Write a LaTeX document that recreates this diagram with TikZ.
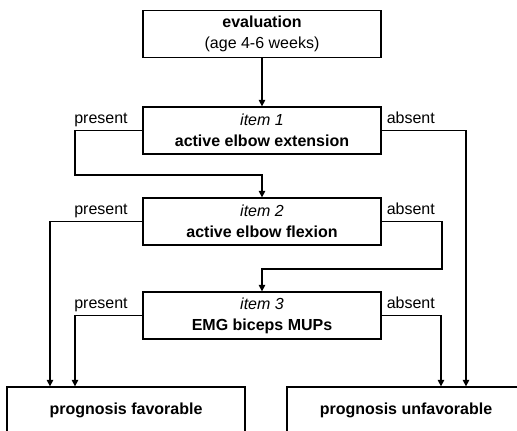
\documentclass[tikz,border=0pt]{standalone}
\usepackage{fontspec}
\setmainfont{Liberation Sans}
\usetikzlibrary{arrows.meta}

\begin{document}
\begin{tikzpicture}[x=1pt, y=-1pt, line width=1.3pt,
        boxStyle/.style={rectangle, draw, minimum width=238pt, minimum height=47pt, inner sep=0pt, align=center, font=\fontsize{16}{21}\selectfont},
        leftLabel/.style={anchor=base east, xshift=-14pt, yshift=7pt, inner sep=0pt, font=\fontsize{16}{19}\selectfont},
        rightLabel/.style={anchor=base west, xshift=4.5pt, yshift=7pt, inner sep=0pt, font=\fontsize{16}{19}\selectfont},
        arrowStyle/.style={-{Triangle[length=6.5pt, width=6.5pt]}}]
                    \clip (0,0) rectangle (517,431);
                    \node[boxStyle](eval) at (262, 34) {\textbf{evaluation}\\(age 4-6 weeks)};
                    \node[boxStyle](item1) at (262, 130.5) {\textit{item 1}\\\textbf{active elbow extension}};
                    \node[boxStyle](item2) at (262, 221.5) {\textit{item 2}\\\textbf{active elbow flexion}};
                    \node[boxStyle](item3) at (262, 315.5) {\textit{item 3}\\\textbf{EMG biceps MUPs}};
                    \node[boxStyle](fav) at (126, 410.5) {\textbf{prognosis favorable}};
                    \node[boxStyle](unfav) at (406, 410.5) {\textbf{prognosis unfavorable}};

                    \draw[arrowStyle] (eval) -- (item1);
                    \draw[arrowStyle] (item1.west) node[leftLabel] {present} -| (75, 175) -| (item2.north);
                    \draw[arrowStyle] (item1.east) node[rightLabel] {absent} -| ([xshift=60pt]unfav.north);
                    \draw[arrowStyle] (item2.west) node[leftLabel] {present} -| ([xshift=-76pt]fav.north);
                    \draw[arrowStyle] (item2.east) node[rightLabel] {absent} -| (442, 269) -| (item3.north);
                    \draw[arrowStyle] (item3.west) node[leftLabel] {present} -| ([xshift=-51pt]fav.north);
                    \draw[arrowStyle] (item3.east) node[rightLabel] {absent} -| ([xshift=35pt]unfav.north);
                \end{tikzpicture}
\end{document}
